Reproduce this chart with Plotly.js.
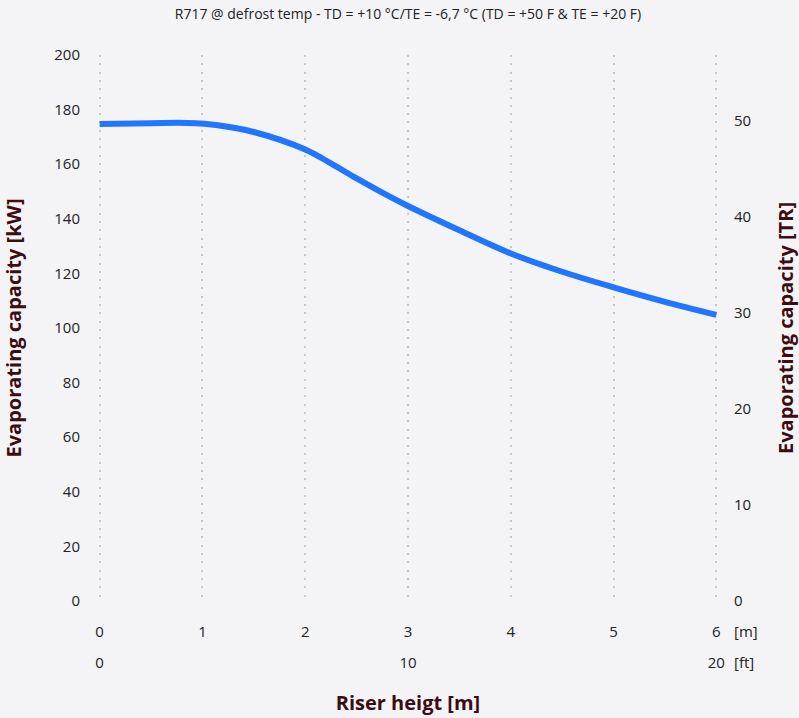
<!DOCTYPE html>
<html>
<head>
<meta charset="utf-8">
<script src="https://cdn.plot.ly/plotly-3.0.1.min.js"></script>
<style>
html,body{margin:0;padding:0;background:#f4f4f7;}
#chart{width:799px;height:718px;}
</style>
</head>
<body>
<div id="chart"></div>
<script>
// Riser height [m]
const riserHeightM = [0, 0.5, 0.85, 1.15, 1.5, 2.0, 2.25, 2.5, 2.75, 3.0, 3.5, 4.0, 4.5, 5.0, 5.5, 6.0];
// Evaporating capacity [kW]
const capacityKW = [174.7, 175.0, 175.1, 174.3, 171.8, 165.4, 160.3, 154.8, 149.6, 144.7, 135.8, 127.3, 120.6, 114.9, 109.6, 104.8];

const leftTicks = [0, 20, 40, 60, 80, 100, 120, 140, 160, 180, 200];
const rightTicks = [0, 10, 20, 30, 40, 50];
const meterTicks = [0, 1, 2, 3, 4, 5, 6];
const feetTicks = [0, 10, 20];
const KW_PER_TR = 3.5168;

const titleText = 'R717 @ defrost temp - TD = +10 °C/TE = -6,7 °C (TD = +50 F & TE = +20 F)';
const axisTitleColor = '#3d0c12';
const tickFont = {family: 'Open Sans, sans-serif', size: 15, color: '#222'};
const axisTitleFont = {family: 'Open Sans, sans-serif', size: 20, color: axisTitleColor, weight: 'bold'};

const trace = {
  x: riserHeightM,
  y: capacityKW,
  type: 'scatter',
  mode: 'lines',
  line: {color: '#2176ff', width: 6, shape: 'spline', smoothing: 1},
  hoverinfo: 'x+y',
  showlegend: false
};
// invisible trace to activate the secondary axes
const dummy = {x: [0], y: [0], xaxis: 'x2', yaxis: 'y2', mode: 'markers', marker: {opacity: 0}, showlegend: false, hoverinfo: 'skip'};

const pad = 0.016;
const layout = {
  width: 799, height: 718,
  paper_bgcolor: '#f4f4f7',
  plot_bgcolor: '#f4f4f7',
  margin: {l: 98, r: 81, t: 55, b: 117},
  title: {text: titleText, x: 0.5, xref: 'paper', y: 0.98, yref: 'container', yanchor: 'middle',
          font: {family: 'Liberation Sans Narrow, Open Sans, sans-serif', size: 14, color: '#222'}},
  xaxis: {
    range: [-pad, 6 + pad], tickvals: meterTicks, ticktext: meterTicks.map(String),
    showgrid: true, gridcolor: '#c6c6cb', griddash: '2px,6.3px', gridwidth: 2,
    zeroline: false, showline: false, ticks: '',
    tickfont: tickFont, ticklabelstandoff: 20,
    title: {text: 'Riser heigt [m]', font: axisTitleFont, standoff: 55}
  },
  xaxis2: {
    overlaying: 'x', anchor: 'y', side: 'bottom', range: [-pad * 20 / 6, 20 + pad * 20 / 6],
    tickvals: feetTicks, ticktext: feetTicks.map(String),
    showgrid: false, zeroline: false, showline: false, ticks: '',
    tickfont: tickFont, ticklabelstandoff: 51
  },
  yaxis: {
    range: [0, 200], tickvals: leftTicks, ticktext: leftTicks.map(String),
    showgrid: false, zeroline: false, showline: false, ticks: '',
    tickfont: tickFont, ticklabelstandoff: 17,
    title: {text: 'Evaporating capacity [kW]', font: axisTitleFont, standoff: 27}
  },
  yaxis2: {
    overlaying: 'y', side: 'right', anchor: 'x', range: [0, 200 / KW_PER_TR],
    tickvals: rightTicks, ticktext: rightTicks.map(String),
    showgrid: false, zeroline: false, showline: false, ticks: '',
    tickfont: tickFont, ticklabelstandoff: 15,
    title: {text: 'Evaporating capacity [TR]', font: axisTitleFont, standoff: 28}
  },
  annotations: [
    {text: '[m]', xref: 'paper', yref: 'paper', x: 1, y: 0, xshift: 14, yshift: -30, xanchor: 'left', yanchor: 'middle', showarrow: false, font: tickFont},
    {text: '[ft]', xref: 'paper', yref: 'paper', x: 1, y: 0, xshift: 14, yshift: -61, xanchor: 'left', yanchor: 'middle', showarrow: false, font: tickFont}
  ]
};

Plotly.newPlot('chart', [trace, dummy], layout, {displayModeBar: false});
</script>
</body>
</html>
